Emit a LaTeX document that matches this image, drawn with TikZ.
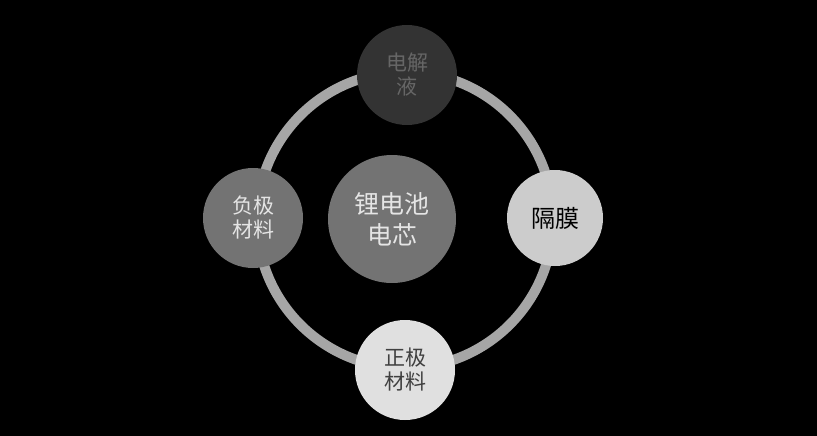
\documentclass[tikz,border=0pt]{standalone}
\usepackage{fontspec}
\setmainfont{Noto Sans CJK SC}
\begin{document}
\begin{tikzpicture}[x=1pt,y=-1pt,
  bub/.style={circle,inner sep=0pt,align=center,font=\fontsize{21}{24}\selectfont}]
\fill[black] (0,0) rectangle (817,436);
\useasboundingbox (0,0) rectangle (817,436);
\coordinate (o) at (405,220);
\draw[line width=10pt,color=gray!70] (o) circle (148);
\node[bub,minimum size=128pt,fill=black!55,text=black!10,font=\fontsize{25}{31}\selectfont] (c) at (392,219) {锂电池\\电芯};
\node[bub,minimum size=100pt,fill=black!80,text=black!60] (t) at (407,75) {电解\\液};
\node[bub,minimum size=96pt,fill=black!20,text=black,font=\fontsize{24}{28}\selectfont] (r) at (555,218) {隔膜};
\node[bub,minimum size=100pt,fill=black!12,text=black!75] (b) at (405,370) {正极\\材料};
\node[bub,minimum size=100pt,fill=black!55,text=black!10] (l) at (253,218) {负极\\材料};
\end{tikzpicture}
\end{document}
